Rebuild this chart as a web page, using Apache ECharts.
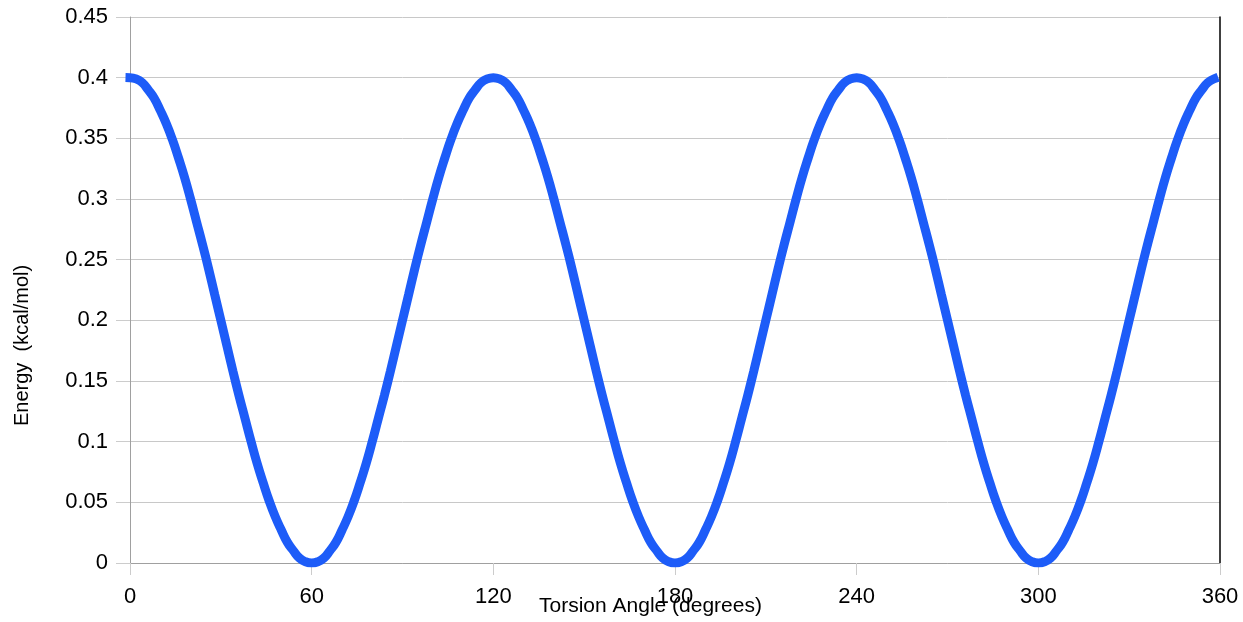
<!DOCTYPE html>
<html>
<head>
<meta charset="utf-8">
<script src="https://cdn.jsdelivr.net/npm/echarts@6/dist/echarts.min.js"></script>
<style>html,body{margin:0;padding:0;background:#fff}#c{width:1243px;height:622px}</style>
</head>
<body>
<div id="c"></div>
<script>
// Torsion angles (degrees), sampled every 2 degrees
const angles = [0,2,4,6,8,10,12,14,16,18,20,22,24,26,28,30,32,34,36,38,40,42,44,46,48,50,52,54,56,58,
60,62,64,66,68,70,72,74,76,78,80,82,84,86,88,90,92,94,96,98,100,102,104,106,108,110,112,114,116,118,
120,122,124,126,128,130,132,134,136,138,140,142,144,146,148,150,152,154,156,158,160,162,164,166,168,170,172,174,176,178,
180,182,184,186,188,190,192,194,196,198,200,202,204,206,208,210,212,214,216,218,220,222,224,226,228,230,232,234,236,238,
240,242,244,246,248,250,252,254,256,258,260,262,264,266,268,270,272,274,276,278,280,282,284,286,288,290,292,294,296,298,
300,302,304,306,308,310,312,314,316,318,320,322,324,326,328,330,332,334,336,338,340,342,344,346,348,350,352,354,356,358];
// Energy values (kcal/mol)
const energy = [0.400,0.399,0.396,0.390,0.383,0.373,0.362,0.349,0.334,0.318,0.300,0.281,0.262,0.242,0.221,0.200,0.179,0.158,0.138,0.119,
0.100,0.082,0.066,0.051,0.038,0.027,0.017,0.010,0.004,0.001,0.000,0.001,0.004,0.010,0.017,0.027,0.038,0.051,0.066,0.082,
0.100,0.119,0.138,0.158,0.179,0.200,0.221,0.242,0.262,0.281,0.300,0.318,0.334,0.349,0.362,0.373,0.383,0.390,0.396,0.399,
0.400,0.399,0.396,0.390,0.383,0.373,0.362,0.349,0.334,0.318,0.300,0.281,0.262,0.242,0.221,0.200,0.179,0.158,0.138,0.119,
0.100,0.082,0.066,0.051,0.038,0.027,0.017,0.010,0.004,0.001,0.000,0.001,0.004,0.010,0.017,0.027,0.038,0.051,0.066,0.082,
0.100,0.119,0.138,0.158,0.179,0.200,0.221,0.242,0.262,0.281,0.300,0.318,0.334,0.349,0.362,0.373,0.383,0.390,0.396,0.399,
0.400,0.399,0.396,0.390,0.383,0.373,0.362,0.349,0.334,0.318,0.300,0.281,0.262,0.242,0.221,0.200,0.179,0.158,0.138,0.119,
0.100,0.082,0.066,0.051,0.038,0.027,0.017,0.010,0.004,0.001,0.000,0.001,0.004,0.010,0.017,0.027,0.038,0.051,0.066,0.082,
0.100,0.119,0.138,0.158,0.179,0.200,0.221,0.242,0.262,0.281,0.300,0.318,0.334,0.349,0.362,0.373,0.383,0.390,0.396,0.399];
const xTicks = [0,60,120,180,240,300,360];
const yTicks = [0,0.05,0.1,0.15,0.2,0.25,0.3,0.35,0.4,0.45];
const xTitle = 'Torsion Angle (degrees)';
const yTitle = 'Energy  (kcal/mol)';

const font = '"Liberation Sans", Arial, sans-serif';
const chart = echarts.init(document.getElementById('c'), null, {renderer: 'canvas'});
chart.setOption({
  animation: false,
  backgroundColor: '#ffffff',
  grid: {left: 130, right: 23, top: 17, bottom: 59, containLabel: false},
  xAxis: {
    type: 'value', min: xTicks[0], max: xTicks[xTicks.length-1], interval: 60,
    axisLine: {show: true, lineStyle: {color: '#a0a0a0', width: 1}},
    axisTick: {show: true, length: 12, lineStyle: {color: '#cccccc'}},
    axisLabel: {color: '#000', fontFamily: font, fontSize: 22, margin: 23},
    splitLine: {show: false}
  },
  yAxis: [{
    type: 'value', min: yTicks[0], max: yTicks[yTicks.length-1], interval: 0.05,
    axisLine: {show: true, lineStyle: {color: '#a0a0a0', width: 1}},
    axisTick: {show: true, length: 14, lineStyle: {color: '#cccccc'}},
    axisLabel: {color: '#000', fontFamily: font, fontSize: 22, margin: 22,
      formatter: v => String(parseFloat(v.toFixed(2)))},
    splitLine: {show: true, lineStyle: {color: '#c8c8c8', width: 1}}
  }, {
    type: 'value', position: 'right', min: 0, max: 0.45, interval: 0.05,
    axisLine: {show: true, lineStyle: {color: '#000', width: 1.5}},
    axisTick: {show: false}, axisLabel: {show: false}, splitLine: {show: false}
  }],
  graphic: [
    {type: 'text', left: 539, top: 596, style: {text: xTitle, fill: '#000', font: '21px ' + font}},
    {type: 'text', x: 12, y: 426, rotation: Math.PI/2,
      style: {text: yTitle, fill: '#000', font: '20px ' + font}}
  ],
  series: [{
    type: 'line', yAxisIndex: 0,
    data: angles.map((a, i) => [a, energy[i]]),
    showSymbol: false, smooth: true,
    lineStyle: {color: '#1d5cf8', width: 9, cap: 'square'},
    itemStyle: {color: '#1d5cf8'}
  }]
});
</script>
</body>
</html>
